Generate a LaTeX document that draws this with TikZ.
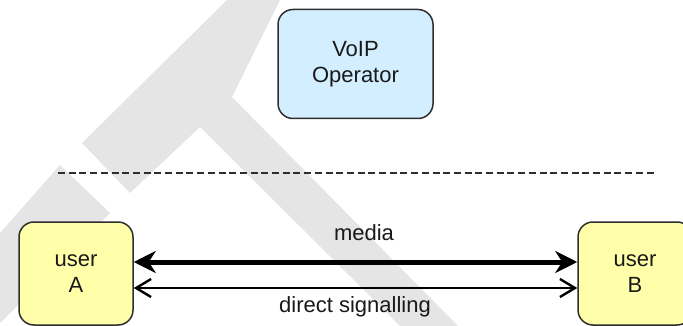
\documentclass[tikz,border=0pt]{standalone}
\usepackage{fontspec}
\setmainfont{Liberation Sans}
\usetikzlibrary{arrows.meta}
\definecolor{xanhnhat}{HTML}{D3EEFF}
\definecolor{vangnhat}{HTML}{FFFFAA}
\definecolor{vien}{HTML}{2E2E2E}
\definecolor{nenmo}{HTML}{E5E5E5}

\begin{document}
\begin{tikzpicture}[x=1pt, y=-1pt,
    hop/.style={draw=vien, line width=1.5pt, rounded corners=15pt, align=center,
        font=\fontsize{22}{26}\selectfont, text=black!90, inner sep=0pt},
    nhan/.style={font=\fontsize{22}{26}\selectfont, text=black!90, inner sep=0pt},
    luong/.style={draw=black, line width=5pt, {Stealth[length=22pt, width=22pt, inset=7pt]}-{Stealth[length=22pt, width=22pt, inset=7pt]}},
    baohieu/.style={draw=black, line width=2.4pt, {Straight Barb[length=15pt, width=18pt]}-{Straight Barb[length=15pt, width=18pt]}}]
    % 1. Khung hình
    \useasboundingbox (0,0) rectangle (683,326);

    % 2. Nền mờ phía sau
    \fill[nenmo] (82,143) -- (227,0) -- (280,0) -- (232,97) -- (458,326)
        -- (400,326) -- (200,127) -- (130,193) -- cycle;
    \fill[nenmo] (0,233) -- (60,165) -- (110,213) -- (0,323) -- cycle;

    % 3. Nhà cung cấp VoIP
    \node[hop, fill=xanhnhat, minimum width=155pt, minimum height=109pt] (nhacc) at (355.5,64) {VoIP\\Operator};

    % 4. Đường phân cách (nét đứt)
    \coordinate (chiatrai) at (58,173);
    \coordinate (chiaphai) at (654,173);
    \draw[vien, line width=2.4pt, dash pattern=on 7pt off 3.7pt] (chiatrai) -- (chiaphai);

    % 5. Hai người dùng
    \node[hop, fill=vangnhat, minimum width=114pt, minimum height=103pt] (userA) at (76,273.5) {user\\A};
    \node[hop, fill=vangnhat, minimum width=114pt, minimum height=103pt] (userB) at (635,273.5) {user\\B};

    % 6. Media và báo hiệu trực tiếp
    \draw[luong] ([yshift=11.5pt]userA.east) -- ([yshift=11.5pt]userB.west);
    \draw[baohieu] ([yshift=-14.5pt]userA.east) -- ([yshift=-14.5pt]userB.west);
    \node[nhan] (media) at (364,233) {media};
    \node[nhan] (signal) at (355,307) {direct signalling};
\end{tikzpicture}
\end{document}
